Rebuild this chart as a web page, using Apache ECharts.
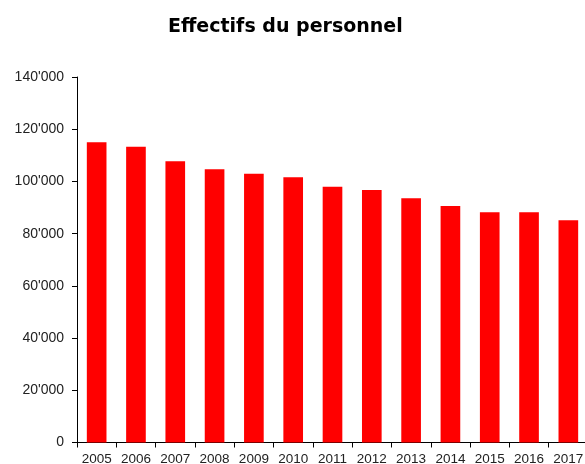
<!DOCTYPE html>
<html>
<head>
<meta charset="utf-8">
<script src="https://cdn.jsdelivr.net/npm/echarts@6/dist/echarts.min.js"></script>
<style>
html,body{margin:0;padding:0;background:#fff;}
#c{width:585px;height:464px;}
</style>
</head>
<body>
<div id="c"></div>
<script>
var titleText = "Effectifs du personnel";
var years = ["2005","2006","2007","2008","2009","2010","2011","2012","2013","2014","2015","2016","2017"];
var effectifs = [115000, 113300, 107700, 104700, 102900, 101600, 98000, 96700, 93600, 90600, 88200, 88200, 85100];
var yMin = 0, yMax = 140000, yStep = 20000;

function fmt(v){ return String(v).replace(/\B(?=(\d{3})+(?!\d))/g, "'"); }

var chart = echarts.init(document.getElementById('c'), null, {renderer:'canvas'});
chart.setOption({
  animation: false,
  backgroundColor: '#ffffff',
  title: {
    text: titleText,
    left: 163,
    top: 13,
    textStyle: {fontFamily: 'DejaVu Sans, Verdana, sans-serif', fontWeight: 'bold', fontSize: 19, color: '#000'}
  },
  grid: {left: 77, top: 77, width: 511, height: 365.5, containLabel: false, outerBoundsMode: 'none'},
  xAxis: {
    type: 'category',
    data: years,
    boundaryGap: true,
    axisLine: {lineStyle: {color: '#000', width: 1}},
    axisTick: {show: true, alignWithLabel: false, length: 5, lineStyle: {color: '#000'}},
    axisLabel: {margin: 10, fontSize: 13.5, color: '#222', fontFamily: 'Liberation Sans, Arial, sans-serif', interval: 0}
  },
  yAxis: {
    type: 'value',
    min: yMin, max: yMax, interval: yStep,
    splitLine: {show: false},
    axisLine: {show: true, lineStyle: {color: '#000', width: 1}},
    axisTick: {show: true, length: 5, lineStyle: {color: '#000'}},
    axisLabel: {margin: 13, fontSize: 14, color: '#222', fontFamily: 'Liberation Sans, Arial, sans-serif', formatter: fmt}
  },
  series: [{
    type: 'bar',
    data: effectifs,
    barWidth: '50%',
    itemStyle: {color: '#ff0000'}
  }]
});
</script>
</body>
</html>
